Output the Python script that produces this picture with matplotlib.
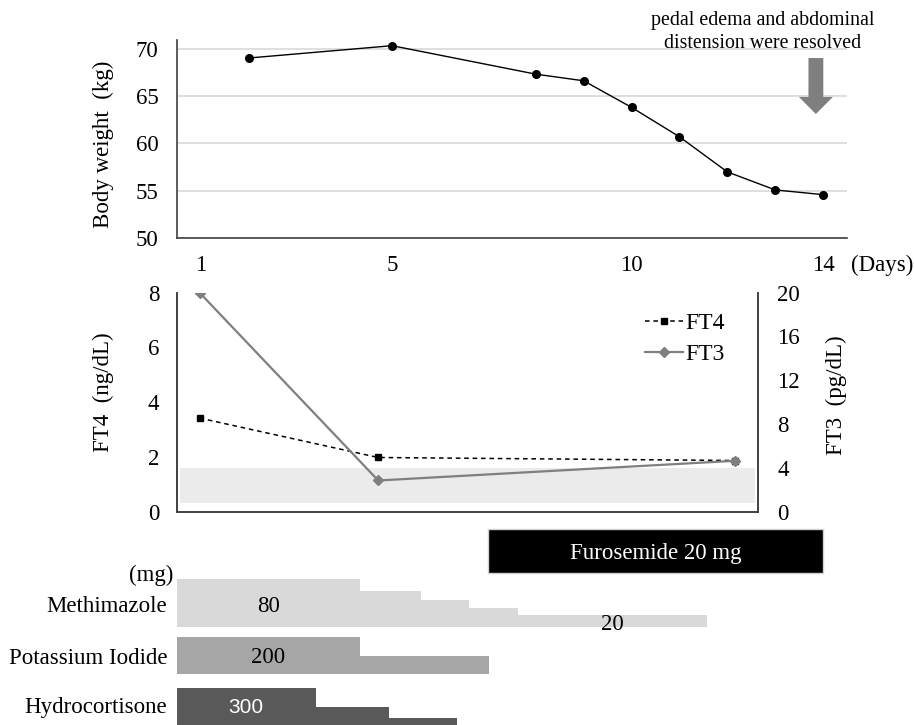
import matplotlib
matplotlib.use("Agg")
import matplotlib.pyplot as plt
from matplotlib.lines import Line2D
from matplotlib.patches import FancyArrow

plt.rcParams['font.family'] = ['Liberation Serif', 'DejaVu Serif']
plt.rcParams['font.size'] = 16.5

# body weight
bw_days = [2, 5, 8, 9, 10, 11, 12, 13, 14]
bw_kg = [69.0, 70.3, 67.3, 66.6, 63.8, 60.7, 57.0, 55.1, 54.6]
bw_ticks = [1, 5, 10, 14]

# thyroid function
ft_days = [1, 5, 13]
ft4 = [3.42, 1.98, 1.87]
ft3 = [20.0, 2.85, 4.65]
normal_range = (0.33, 1.6)

# treatment (day edges, dose per segment)
methimazole_edges = [0.5, 4.33, 5.6, 6.6, 7.63, 11.58]
methimazole_mg = [80, 60, 45, 32, 20]
ki_edges = [0.5, 4.33, 7.02]
ki_mg = [200, 100]
hc_edges = [0.5, 3.4, 4.94, 6.36]
hc_mg = [300, 150, 60]
furosemide_days = (7.0, 14.0)

W, H = 914, 725
fig = plt.figure(figsize=(W / 100, H / 100), dpi=100)

def box(l, t, r, b):
    return [l / W, 1 - b / H, (r - l) / W, (b - t) / H]

spine_col = '#404040'

# ---- body weight panel
ax1 = fig.add_axes(box(176.7, 40, 847, 238.3))
ax1.plot(bw_days, bw_kg, color='black', lw=1.0, marker='o', ms=5.5, zorder=3)
ax1.set_xlim(0.5, 14.5)
ax1.set_ylim(50, 70.9)
ax1.set_yticks([50, 55, 60, 65, 70])
ax1.set_xticks(bw_ticks)
ax1.grid(axis='y', color='#d9d9d9', lw=1.2)
ax1.set_axisbelow(True)
for s in ['top', 'right']:
    ax1.spines[s].set_visible(False)
for s in ['left', 'bottom']:
    ax1.spines[s].set_color(spine_col)
    ax1.spines[s].set_linewidth(1.2)
ax1.tick_params(axis='y', length=0, pad=13)
ax1.tick_params(axis='x', length=0, pad=12)
ax1.add_patch(FancyArrow(13.85, 69.0, 0, -5.9, width=0.31, head_width=0.71,
                         head_length=1.8, length_includes_head=True,
                         color='#7f7f7f', lw=0, zorder=4))
fig.text(763 / W, 1 - 21 / H, 'pedal edema and abdominal', ha='center', va='center', fontsize=14.3)
fig.text(763 / W, 1 - 43 / H, 'distension were resolved', ha='center', va='center', fontsize=14.3)
fig.text(851 / W, 1 - 265 / H, '(Days)', ha='left', va='center')
fig.text(103 / W, 1 - 144 / H, 'Body weight  (kg)', rotation=90, ha='center', va='center')

# ---- FT4 / FT3 panel
ax2 = fig.add_axes(box(177.3, 292.7, 757.7, 511.7))
ax2.axhspan(*normal_range, xmin=0.004, xmax=0.995, color='#ebebeb', lw=0, zorder=0)
ax2.plot(ft_days, ft4, color='black', lw=1.1, ls=(0, (3, 2.5)), marker='s', ms=4, zorder=3)
ax2.set_xlim(0.5, 13.5)
ax2.set_ylim(0, 8)
ax2.set_yticks([0, 2, 4, 6, 8])
ax2.set_xticks([])
ax2r = ax2.twinx()
ax2r.plot(ft_days, ft3, color='#7f7f7f', lw=1.6, marker='D', ms=5.5, zorder=3)
ax2r.set_ylim(0, 20)
ax2r.set_yticks([0, 4, 8, 12, 16, 20])
for a in (ax2, ax2r):
    a.spines['top'].set_visible(False)
    for s in ['left', 'right', 'bottom']:
        a.spines[s].set_color(spine_col)
        a.spines[s].set_linewidth(1.2)
ax2.tick_params(axis='y', length=0, pad=13)
ax2r.tick_params(axis='y', length=0, pad=14)
handles = [Line2D([], [], color='black', lw=1.1, ls=(0, (3, 2.5)), marker='s', ms=4),
           Line2D([], [], color='#7f7f7f', lw=1.6, marker='D', ms=5.5)]
ax2r.legend(handles, ['FT4', 'FT3'], loc='upper left', bbox_to_anchor=(0.806, 0.91),
            frameon=False, handlelength=1.6, handletextpad=0.1, labelspacing=0.4,
            borderpad=0, borderaxespad=0, fontsize=17)
fig.text(103 / W, 1 - 392 / H, 'FT4  (ng/dL)', rotation=90, ha='center', va='center')
fig.text(836.7 / W, 1 - 395 / H, 'FT3  (pg/dL)', rotation=90, ha='center', va='center')

# ---- treatment bars (y in pixels above image bottom)
ax3 = fig.add_axes(box(176.7, 520, 847, 725))
ax3.set_xlim(0.5, 14.5)
ax3.set_ylim(0, 205)
ax3.axis('off')

def steps(edges, doses, base, scale, color):
    lefts = edges[:-1]
    widths = [b - a for a, b in zip(edges[:-1], edges[1:])]
    heights = [d * scale for d in doses]
    ax3.bar(lefts, heights, width=widths, bottom=base, align='edge',
            color=color, lw=0)
    return lefts, widths, heights

m_base, k_base, h_base = 98.3, 51, 0
ml, mw, mh = steps(methimazole_edges, methimazole_mg, m_base, 47.4 / 80, '#d9d9d9')
kl, kw, kh = steps(ki_edges, ki_mg, k_base, 36.7 / 200, '#a6a6a6')
hl, hw, hh = steps(hc_edges, hc_mg, h_base, 36.7 / 300, '#595959')

ax3.text(ml[0] + mw[0] / 2, m_base + mh[0] / 2 - 3, str(methimazole_mg[0]), ha='center', va='center')
ax3.text(ml[-1] + mw[-1] / 2, m_base + 2, str(methimazole_mg[-1]), ha='center', va='center')
ax3.text(kl[0] + kw[0] / 2, k_base + kh[0] / 2 - 2, str(ki_mg[0]), ha='center', va='center')
ax3.text(hl[0] + hw[0] / 2, h_base + hh[0] / 2 - 1, str(hc_mg[0]), ha='center', va='center',
         color='white', family=['Liberation Sans', 'DejaVu Sans'], fontsize=15)

ax3.bar(furosemide_days[0], 44, width=furosemide_days[1] - furosemide_days[0],
        bottom=151.7, align='edge', color='black', edgecolor='#d0d0d0', lw=1)
ax3.text(sum(furosemide_days) / 2, 172, 'Furosemide 20 mg', color='white',
         ha='center', va='center')

ax3.text(0.43, 150, '(mg)', ha='right', va='center', clip_on=False)
ax3.text(0.3, 119, 'Methimazole', ha='right', va='center', clip_on=False)
ax3.text(0.3, 67, 'Potassium Iodide', ha='right', va='center', clip_on=False)
ax3.text(0.3, 17, 'Hydrocortisone', ha='right', va='center', clip_on=False)

fig.savefig('out.png', dpi=100)
